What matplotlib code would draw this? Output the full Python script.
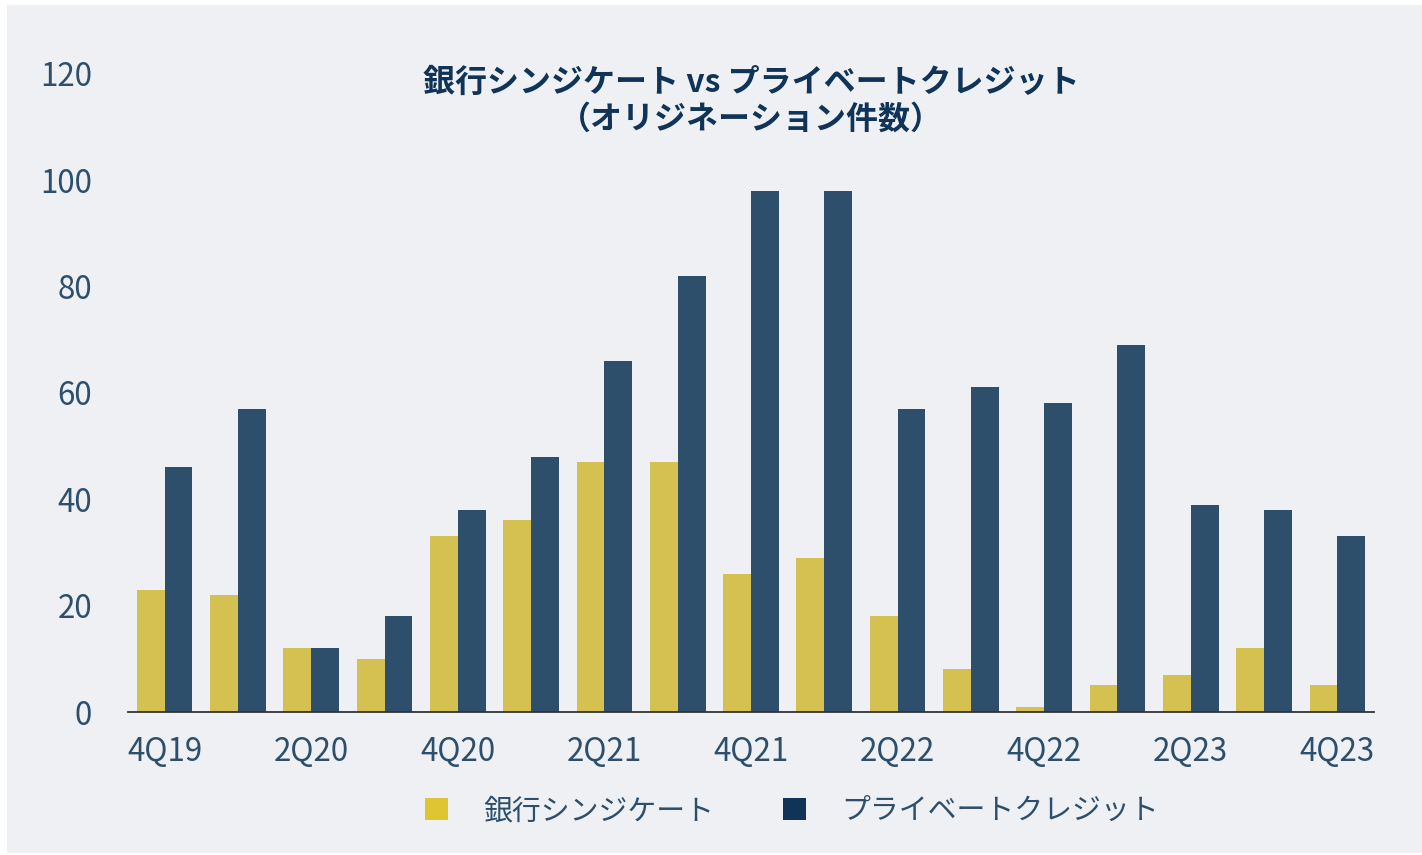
import matplotlib
matplotlib.use("Agg")
import matplotlib.pyplot as plt
from matplotlib.patches import Patch, Rectangle
import numpy as np

plt.rcParams['font.family'] = ['Noto Sans CJK JP', 'DejaVu Sans']

categories = ['4Q19', '1Q20', '2Q20', '3Q20', '4Q20', '1Q21', '2Q21', '3Q21', '4Q21',
              '1Q22', '2Q22', '3Q22', '4Q22', '1Q23', '2Q23', '3Q23', '4Q23']
bank_synd = [23, 22, 12, 10, 33, 36, 47, 47, 26, 29, 18, 8, 1, 5, 7, 12, 5]
private_credit = [46, 57, 12, 18, 38, 48, 66, 82, 98, 98, 57, 61, 58, 69, 39, 38, 33]
series_names = ['銀行シンジケート', 'プライベートクレジット']
title_text = '銀行シンジケート vs プライベートクレジット\n（オリジネーション件数）'
yticks = [0, 20, 40, 60, 80, 100, 120]

bg = '#EEF0F4'
yellow = '#D4C151'
blue = '#2D4F6C'
legend_yellow = '#E0C532'
legend_blue = '#0F3457'
text_col = '#2D4F6C'
title_col = '#0F3457'

fig = plt.figure(figsize=(14.22, 8.55), dpi=100)
fig.patch.set_facecolor('white')
fig.patches.append(Rectangle((7/1422, 2/855), 1 - 7/1422, 1 - 7/855,
                             transform=fig.transFigure, facecolor=bg,
                             edgecolor='none', zorder=-10))
ax = fig.add_axes([128/1422, 1 - 712/855, (1374 - 128)/1422, (712 - 73.6)/855])
ax.set_facecolor('none')

x = np.arange(len(categories))
w = 0.38
ax.bar(x - w/2, bank_synd, width=w, color=yellow, zorder=2)
ax.bar(x + w/2, private_credit, width=w, color=blue, zorder=2)

ax.set_xlim(-0.5, len(categories) - 0.5)
ax.set_ylim(0, 120)
ax.set_yticks(yticks)
ax.set_yticklabels([str(v) for v in yticks])
ax.set_xticks(x[::2])
ax.set_xticklabels(categories[::2])
ax.tick_params(axis='y', length=0, pad=26, labelsize=22.5, labelcolor=text_col)
ax.tick_params(axis='x', length=0, pad=17, labelsize=22.5, labelcolor=text_col)
for s in ['top', 'right', 'left']:
    ax.spines[s].set_visible(False)
ax.spines['bottom'].set_color('#333333')
ax.spines['bottom'].set_linewidth(1.3)

ax.text(0.5, 1.01, title_text, transform=ax.transAxes, ha='center', va='top',
        fontsize=23, fontweight='bold', color=title_col, linespacing=1.18)

handles = [Patch(facecolor=legend_yellow, edgecolor='none'),
           Patch(facecolor=legend_blue, edgecolor='none')]
fig.legend(handles, series_names, loc='center', bbox_to_anchor=(792/1422, 1 - 811/855),
           ncol=2, frameon=False, fontsize=20.8, labelcolor=text_col,
           handlelength=0.8, handleheight=0.8, handletextpad=1.2, columnspacing=2.4)

fig.savefig('out.png', dpi=100, facecolor=fig.get_facecolor())
